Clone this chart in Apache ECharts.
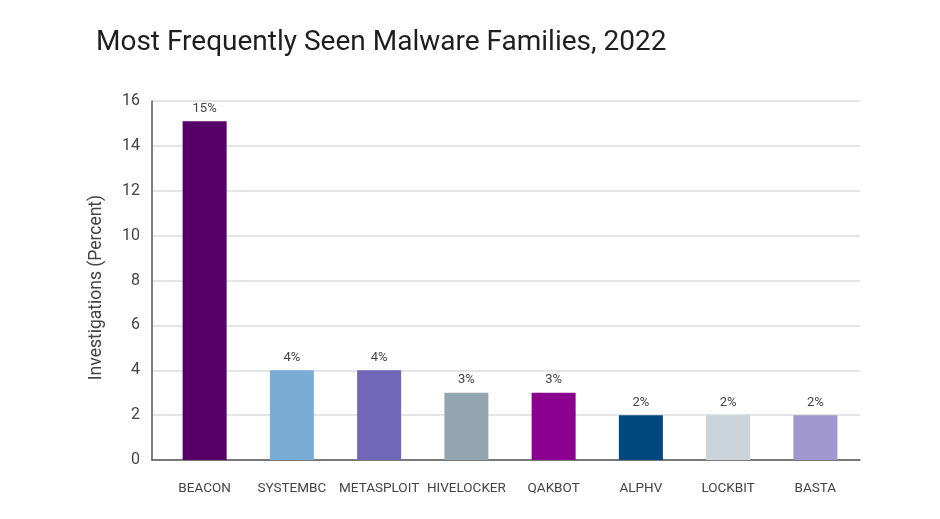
<!DOCTYPE html>
<html>
<head>
<meta charset="utf-8">
<script src="https://cdn.jsdelivr.net/npm/echarts@6/dist/echarts.min.js"></script>
<style>html,body{margin:0;padding:0;background:#fff;}#c{width:940px;height:519px;}</style>
</head>
<body>
<div id="c"></div>
<script>
const categories = ["BEACON","SYSTEMBC","METASPLOIT","HIVELOCKER","QAKBOT","ALPHV","LOCKBIT","BASTA"];
const values = [15.1, 4, 4, 3, 3, 2, 2, 2];
const barLabels = ["15%","4%","4%","3%","3%","2%","2%","2%"];
const colors = ["#560068","#7aadd6","#7266b9","#93a5b0","#8b008f","#004880","#cad4da","#a097d0"];
const yTicks = [0,2,4,6,8,10,12,14,16];

const chart = echarts.init(document.getElementById('c'), null, {renderer:'canvas'});
chart.setOption({
  animation:false,
  textStyle:{fontFamily:'Roboto'},
  title:{
    text:'Most Frequently Seen Malware Families, 2022',
    left:91, top:24,
    textStyle:{fontFamily:'Roboto', fontSize:28, fontWeight:'normal', color:'#1e1e1e'}
  },
  grid:[
    {left:152, right:80, top:101, bottom:59, containLabel:false},
    {left:161, right:81, top:101, bottom:59, containLabel:false}
  ],
  xAxis:[
    {gridIndex:0, type:'value', min:0, max:1, show:true,
      axisLine:{show:true, lineStyle:{color:'#555', width:1.5}},
      axisTick:{show:false}, axisLabel:{show:false}, splitLine:{show:false}},
    {gridIndex:1, type:'category', data:categories,
      axisLine:{show:false},
      axisTick:{show:false},
      axisLabel:{color:'#444', fontSize:13.5, margin:22, interval:0}}
  ],
  yAxis:[
    {gridIndex:0, type:'value', min:yTicks[0], max:yTicks[yTicks.length-1], interval:2,
      name:'Investigations (Percent)', nameLocation:'middle', nameGap:46,
      nameTextStyle:{color:'#444', fontSize:17.5, padding:[0,14,0,0]},
      axisLine:{show:true, lineStyle:{color:'#555', width:1.5}},
      axisTick:{show:false},
      axisLabel:{color:'#444', fontSize:16, margin:12},
      splitLine:{lineStyle:{color:'#dcdcdc', width:1.5}}},
    {gridIndex:1, type:'value', min:yTicks[0], max:yTicks[yTicks.length-1], interval:2,
      show:false, splitLine:{show:false}}
  ],
  series:[{
    type:'bar', xAxisIndex:1, yAxisIndex:1,
    barWidth:44,
    data:values.map((v,i)=>({value:v, itemStyle:{color:colors[i]}})),
    label:{show:true, position:'top', distance:6, color:'#444', fontSize:13,
      formatter:p=>barLabels[p.dataIndex]}
  }]
});
</script>
</body>
</html>
